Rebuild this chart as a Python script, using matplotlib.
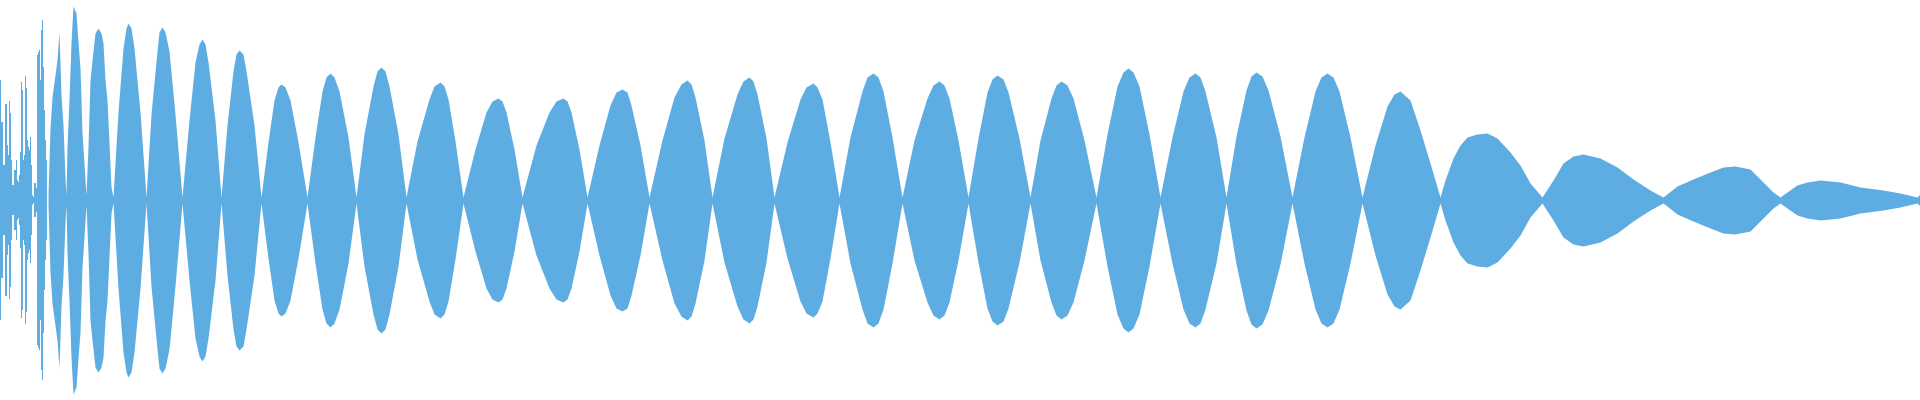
import numpy as np
import matplotlib
matplotlib.use("Agg")
import matplotlib.pyplot as plt

# Waveform envelope (x in px, half-height in px, centre at 0)
# noisy attack at the very start, one value per pixel column
attack_x = list(range(0, 48))
attack_amp = [120, 78, 78, 35, 35, 96, 96, 55, 45, 99, 87, 40, 15, 15, 30, 30,
              40, 20, 18, 25, 48, 118, 110, 40, 45, 124, 112, 60, 53, 50, 63, 35,
              5, 3, 17, 17, 12, 145, 148, 150, 120, 170, 180, 133, 90, 60, 40, 10]

# beating lobes after the attack (one row per lobe: node .. peak .. before next node)
env_x = [48, 50, 52, 54, 57, 59, 61, 63, 65, 66, 67, 69, 71, 73, 76, 78, 80, 82, 84, 86,
         88, 90, 92, 95, 98, 101, 103, 105, 107, 109, 111,
         113, 118, 123, 126, 128, 131, 134, 140,
         146, 151, 157, 159, 162, 165, 169, 175,
         182, 189, 195, 199, 202, 205, 208, 215,
         221, 227, 233, 236, 239, 243, 246, 254,
         261, 268, 274, 278, 281, 285, 290, 298,
         307, 315, 322, 326, 330, 334, 339, 348,
         356, 364, 373, 377, 381, 385, 389, 398,
         406, 417, 429, 434, 440, 444, 448, 455,
         463, 475, 486, 492, 498, 502, 506, 514,
         522, 536, 549, 556, 563, 567, 571, 579,
         587, 599, 610, 616, 622, 627, 631, 640,
         649, 662, 674, 681, 687, 691, 695, 704,
         712, 724, 737, 743, 749, 753, 757, 766,
         774, 787, 800, 806, 813, 817, 822, 830,
         839, 850, 862, 867, 873, 878, 883, 892,
         902, 914, 927, 933, 939, 944, 949, 958,
         968, 978, 987, 992, 997, 1003, 1008, 1019,
         1030, 1040, 1051, 1056, 1061, 1067, 1073, 1084,
         1096, 1107, 1117, 1123, 1128, 1133, 1139, 1149,
         1160, 1172, 1183, 1189, 1195, 1200, 1205, 1216,
         1226, 1236, 1246, 1251, 1256, 1262, 1268, 1280,
         1292, 1304, 1315, 1321, 1327, 1333, 1339, 1350,
         1362, 1375, 1387, 1394, 1400, 1410, 1420, 1430,
         1440, 1445, 1453, 1460, 1467, 1477, 1487, 1497, 1510, 1520, 1530,
         1542, 1553, 1563, 1573, 1583, 1600, 1617, 1633, 1650,
         1663, 1677, 1693, 1710, 1723, 1735, 1750, 1763, 1773,
         1780, 1787, 1797, 1807, 1820, 1840, 1860, 1883, 1900, 1917, 1920]
env_amp = [5, 72, 103, 118, 140, 168, 105, 75, 22, 5, 53, 100, 157, 194, 187, 158, 132, 67, 37, 5,
           53, 120, 140, 167, 172, 167, 157, 120, 100, 57, 13,
           3, 88, 152, 172, 177, 172, 152, 88,
           3, 86, 149, 168, 173, 168, 149, 86,
           3, 80, 138, 156, 161, 156, 138, 80,
           3, 75, 129, 146, 150, 146, 129, 75,
           3, 58, 100, 113, 116, 113, 100, 58,
           3, 63, 109, 123, 127, 123, 109, 63,
           3, 66, 114, 129, 133, 129, 114, 66,
           3, 59, 101, 114, 118, 114, 101, 59,
           3, 51, 88, 99, 102, 99, 88, 51,
           3, 55, 88, 99, 102, 99, 88, 51,
           3, 55, 95, 108, 111, 108, 95, 55,
           3, 60, 103, 116, 120, 116, 103, 60,
           3, 62, 106, 119, 123, 119, 106, 62,
           3, 58, 101, 113, 117, 113, 101, 58,
           3, 63, 109, 123, 127, 123, 109, 63,
           3, 60, 102, 115, 119, 115, 102, 60,
           3, 62, 108, 121, 125, 121, 108, 62,
           3, 60, 102, 115, 119, 115, 102, 60,
           3, 66, 114, 128, 132, 128, 114, 66,
           3, 63, 109, 123, 127, 123, 109, 63,
           3, 64, 110, 124, 128, 124, 110, 64,
           3, 63, 109, 123, 127, 123, 109, 63,
           3, 55, 94, 106, 109, 100, 70, 37,
           3, 20, 42, 55, 63, 66, 67, 62, 48, 35, 17,
           3, 20, 37, 44, 46, 42, 33, 21, 10,
           3, 14, 21, 28, 33, 34, 31, 18, 8,
           3, 8, 15, 18, 20, 18, 13, 10, 7, 3, 6]

color = "#5DADE2"

fig = plt.figure(figsize=(19.2, 4), dpi=100)
ax = fig.add_axes([0, 0, 1, 1])

ax.fill_between(attack_x, -np.array(attack_amp), attack_amp, step="mid",
                color=color, linewidth=0)
ax.fill_between(env_x, -np.array(env_amp), env_amp, color=color, linewidth=0)

ax.set_xlim(0, 1920)
ax.set_ylim(-200, 200)
ax.axis("off")

fig.savefig("out.png", dpi=100, facecolor="white")
